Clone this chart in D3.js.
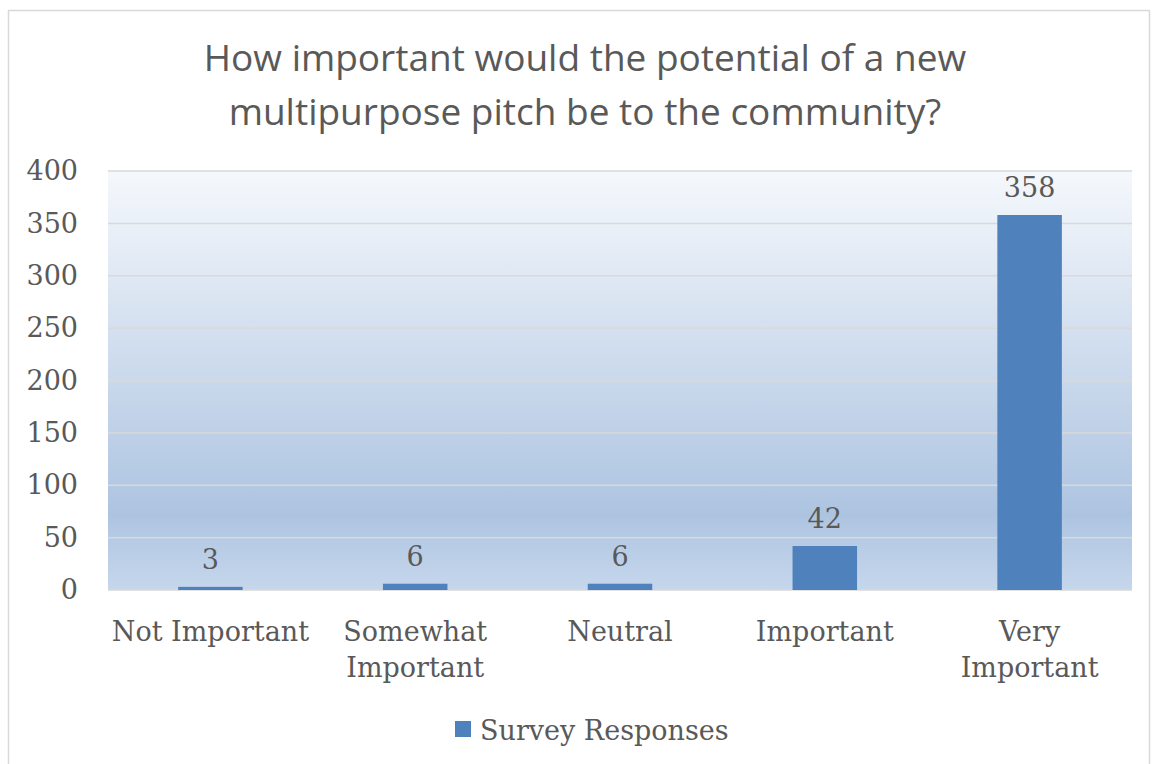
<!DOCTYPE html>
<html>
<head>
<meta charset="utf-8">
<script src="https://cdn.jsdelivr.net/npm/d3@7"></script>
<style>
  body { margin: 0; background: #fff; }
  text { fill: #595959; }
</style>
</head>
<body>
<div id="chart"></div>
<script>
// Data
let categories = ["Not Important", "Somewhat Important", "Neutral", "Important", "Very Important"];
let categoryLines = [["Not Important"], ["Somewhat", "Important"], ["Neutral"], ["Important"], ["Very", "Important"]];
let responses = [3, 6, 6, 42, 358];
let yTicks = [0, 50, 100, 150, 200, 250, 300, 350, 400];
let titleLines = ["How important would the potential of a new", "multipurpose pitch be to the community?"];
let seriesName = "Survey Responses";

let svgWidth = 1154;
let svgHeight = 764;

let plot = { left: 108, right: 1132, top: 171, bottom: 590 };
let serif = "'DejaVu Serif', serif";

let svg = d3.select("#chart")
  .append("svg")
  .attr("width", svgWidth)
  .attr("height", svgHeight);

// gradient fill for plot area
let defs = svg.append("defs");
let grad = defs.append("linearGradient")
  .attr("id", "plotGrad")
  .attr("x1", 0).attr("y1", 0).attr("x2", 0).attr("y2", 1);
grad.append("stop").attr("offset", "0%").attr("stop-color", "#f5f8fc");
grad.append("stop").attr("offset", "82%").attr("stop-color", "#adc4e1");
grad.append("stop").attr("offset", "100%").attr("stop-color", "#c6d7ec");

// chart border
svg.append("rect")
  .attr("x", 8.5).attr("y", 10.5)
  .attr("width", 1141).attr("height", 760)
  .attr("fill", "none")
  .attr("stroke", "#d9d9d9")
  .attr("stroke-width", 1.5);

// title
svg.append("text")
  .attr("text-anchor", "middle")
  .style("font-family", "'Open Sans', 'Liberation Sans', sans-serif")
  .style("font-size", "37px")
  .selectAll("tspan")
  .data(titleLines)
  .enter()
  .append("tspan")
  .attr("x", 585)
  .attr("y", (d, i) => 71 + i * 54)
  .text(d => d);

// scales
let x = d3.scaleBand()
  .domain(categories)
  .range([plot.left, plot.right])
  .paddingInner(0.685)
  .paddingOuter(0.3425);

let y = d3.scaleLinear()
  .domain([0, 400])
  .range([plot.bottom, plot.top]);

svg.append("rect")
  .attr("x", plot.left)
  .attr("y", plot.top)
  .attr("width", plot.right - plot.left)
  .attr("height", plot.bottom - plot.top)
  .attr("fill", "url(#plotGrad)");

// gridlines
svg.append("g")
  .selectAll("line")
  .data(yTicks)
  .enter()
  .append("line")
  .attr("x1", plot.left)
  .attr("x2", plot.right)
  .attr("y1", d => y(d))
  .attr("y2", d => y(d))
  .attr("stroke", "#d9d9d9")
  .attr("stroke-width", 1.5);

// y axis labels
let yAxis = d3.axisLeft(y).tickValues(yTicks).tickSize(0).tickPadding(30);
let yG = svg.append("g")
  .attr("transform", `translate(${plot.left}, 0)`)
  .call(yAxis);
yG.select(".domain").remove();
yG.selectAll("text")
  .style("font-family", serif)
  .style("font-size", "27px")
  .attr("fill", "#595959");

// bars
svg.append("g")
  .selectAll("rect")
  .data(responses)
  .enter()
  .append("rect")
  .attr("x", (d, i) => x(categories[i]))
  .attr("y", d => y(d))
  .attr("width", x.bandwidth())
  .attr("height", d => y(0) - y(d))
  .attr("fill", "#4f81bd");

// value labels
svg.append("g")
  .selectAll("text")
  .data(responses)
  .enter()
  .append("text")
  .attr("x", (d, i) => x(categories[i]) + x.bandwidth() / 2)
  .attr("y", d => y(d) - 18)
  .attr("text-anchor", "middle")
  .style("font-family", serif)
  .style("font-size", "27px")
  .text(d => d);

// x category labels
let xLabels = svg.append("g")
  .selectAll("text")
  .data(categoryLines)
  .enter()
  .append("text")
  .attr("text-anchor", "middle")
  .style("font-family", serif)
  .style("font-size", "27px");

xLabels.selectAll("tspan")
  .data((d, i) => d.map(t => ({ t: t, i: i })))
  .enter()
  .append("tspan")
  .attr("x", d => x(categories[d.i]) + x.bandwidth() / 2)
  .attr("y", (d, j) => 641 + j * 36)
  .text(d => d.t);

// legend
let legend = svg.append("g");
legend.append("rect")
  .attr("x", 455).attr("y", 721)
  .attr("width", 16).attr("height", 16)
  .attr("fill", "#4f81bd");
legend.append("text")
  .attr("x", 480).attr("y", 740)
  .style("font-family", serif)
  .style("font-size", "27px")
  .text(seriesName);
</script>
</body>
</html>
